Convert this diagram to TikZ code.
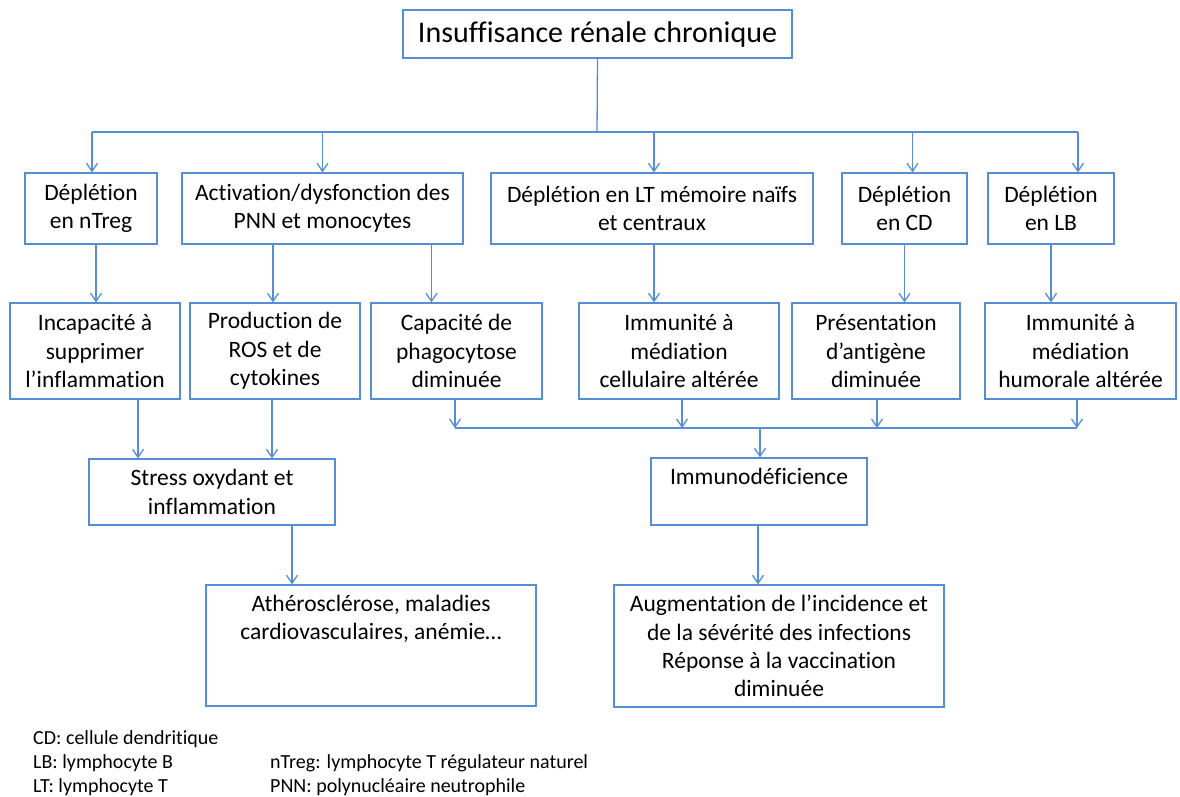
\documentclass[tikz,border=0pt]{standalone}
\usepackage{fontspec}
\setmainfont{Carlito}[Ligatures={NoCommon,NoRequired,NoContextual}, RawFeature={-calt;-dlig}]
\usepackage{xcolor}
\usetikzlibrary{arrows.meta}
\definecolor{linkblue}{RGB}{85,142,213}

\begin{document}
\begin{tikzpicture}[x=1pt,y=-1pt,
  box/.style={draw=linkblue, line width=1.3pt, align=center, font=\fontsize{23.5}{28.3}\selectfont},
  link/.style={draw=linkblue, line width=1.3pt},
  arr/.style={link, -{Straight Barb[length=8pt,width=11pt]}},
  legend/.style={anchor=base west, font=\fontsize{20}{22}\selectfont}]
\tikzstyle{every node}+=[inner sep=0pt]
\useasboundingbox (0,0) rectangle (1180,796);
% title
\node [box, minimum width=389, minimum height=48, font=\fontsize{30}{32}\selectfont] (irc) at (597.5,34) {Insuffisance rénale chronique};
% first row
\node [box, minimum width=132, minimum height=71] (ntreg) at (91,208.5) {Déplét{}ion\\en nTreg};
\node [box, minimum width=281, minimum height=71] (activ) at (322.5,208.5) {Activation/dysfonction des\\PNN et monocytes};
\node [box, minimum width=322, minimum height=71] (lt) at (652,208.5) {Déplét{}ion en LT mémoire naïfs\\et centraux};
\node [box, minimum width=125, minimum height=71] (cd) at (904.5,208.5) {Déplét{}ion\\en CD};
\node [box, minimum width=126, minimum height=71] (lb) at (1051,208.5) {Déplét{}ion\\en LB};
% second row
\node [box, minimum width=170, minimum height=96] (incap) at (95,351) {Incapacité à\\supprimer\\l’inflammation};
\node [box, minimum width=170, minimum height=96] (prod) at (275,351) {Production de\\ROS et de\\cytokines};
\node [box, minimum width=171, minimum height=96] (phago) at (456.5,351) {Capacité de\\phagocytose\\diminuée};
\node [box, minimum width=200, minimum height=96] (cell) at (679,351) {Immunité à\\médiation\\cellulaire altérée};
\node [box, minimum width=168, minimum height=96] (pres) at (876,351) {Présentation\\d’antigène\\diminuée};
\node [box, minimum width=191, minimum height=96] (hum) at (1080.5,351) {Immunité à\\médiation\\humorale altérée};
% third row
\node [box, minimum width=246, minimum height=66] (stress) at (212,492) {Stress oxydant et\\inflammation};
\node [box, minimum width=216, minimum height=67] (immuno) at (759,491.5) {};
\node [box, draw=none, anchor=north] (immunotxt) at ([yshift=-10]immuno.north) {Immunodéficience};
% last row
\node [box, minimum width=330, minimum height=121] (athero) at (371,645.5) {};
\node [box, draw=none, anchor=north] (atherotxt) at ([yshift=-10]athero.north) {Athérosclérose, maladies\\cardiovasculaires, anémie…};
\node [box, minimum width=330, minimum height=122] (infect) at (779,646) {Augmentation de l’incidence et\\de la sévérité des infections\\Réponse à la vaccination\\diminuée};
% title to first row
\coordinate (fork) at (597,132);
\draw [link] (irc.south) -- (fork);
\draw [link] ([xshift=1]ntreg.north |- fork) -- ([xshift=27]lb.north |- fork);
\foreach \n/\dx in {ntreg/1, activ/0, lt/2, cd/8, lb/27}
  \draw [arr] ([xshift=\dx]\n.north |- fork) -- ([xshift=\dx]\n.north);
% first row to second row
\draw [arr] ([xshift=5]ntreg.south) -- ([xshift=5]ntreg.south |- incap.north);
\draw [arr] ([xshift=-2]prod.north |- activ.south) -- ([xshift=-2]prod.north);
\draw [arr] ([xshift=-25]phago.north |- activ.south) -- ([xshift=-25]phago.north);
\draw [arr] ([xshift=2]lt.south) -- ([xshift=2]lt.south |- cell.north);
\draw [arr] (cd.south) -- (cd.south |- pres.north);
\draw [arr] (lb.south) -- (lb.south |- hum.north);
% inflammation branch
\draw [arr] ([xshift=43]incap.south) -- ([xshift=43]incap.south |- stress.north);
\draw [arr] ([xshift=-3]prod.south) -- ([xshift=-3]prod.south |- stress.north);
\draw [arr] ([xshift=80]stress.south) -- ([xshift=80]stress.south |- athero.north);
% immunity branch
\coordinate (merge) at (760,428);
\draw [link] ([xshift=-1.5]phago.south |- merge) -- ([xshift=-3.5]hum.south |- merge);
\draw [arr] ([xshift=-1.5]phago.south) -- ([xshift=-1.5]phago.south |- merge);
\draw [arr] ([xshift=3]cell.south) -- ([xshift=3]cell.south |- merge);
\draw [arr] ([xshift=1]pres.south) -- ([xshift=1]pres.south |- merge);
\draw [arr] ([xshift=-3.5]hum.south) -- ([xshift=-3.5]hum.south |- merge);
\draw [arr] (merge) -- (merge |- immuno.north);
\draw [arr] ([xshift=-1]immuno.south) -- ([xshift=-1]immuno.south |- infect.north);
% legend
\node [legend] (cdkey) at (33,744) {CD: cellule dendritique};
\node [legend] (lbkey) at (33,768) {LB: lymphocyte B};
\node [legend] (ltkey) at (33,792) {LT: lymphocyte T};
\node [legend] (ntregkey) at (270,768) {nTreg: lymphocyte T régulateur naturel};
\node [legend] (pnnkey) at (270,792) {PNN: polynucléaire neutrophile};
\end{tikzpicture}
\end{document}
